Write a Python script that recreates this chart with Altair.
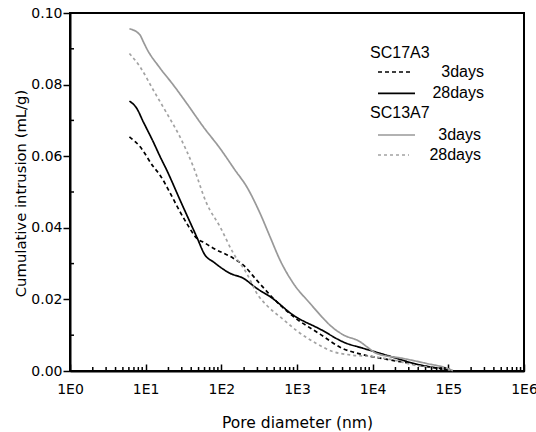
import altair as alt
import pandas as pd

# ---- data ----
sc17_3d_d = [6.1, 8.4, 12.6, 15.5, 20, 28.4, 34.8, 47.2, 60, 78.3, 144, 195, 293, 486, 850, 2014, 4000, 7000, 15000, 30000, 50000, 105000]
sc17_3d_v = [0.0654, 0.0627, 0.0571, 0.0547, 0.0506, 0.0445, 0.0413, 0.0371, 0.0358, 0.0343, 0.0315, 0.0296, 0.0254, 0.0203, 0.0156, 0.0103, 0.0063, 0.0047, 0.0033, 0.0022, 0.0013, 0.0003]

sc17_28d_d = [6.1, 7.6, 9.3, 12.6, 15.5, 19.0, 28.4, 47.2, 60.8, 78.3, 130, 195, 293, 460, 893, 2014, 4540, 6790, 15300, 42200, 105000]
sc17_28d_v = [0.0754, 0.0734, 0.0696, 0.0640, 0.0599, 0.0561, 0.0478, 0.0375, 0.0324, 0.0305, 0.0273, 0.0259, 0.0231, 0.0205, 0.0156, 0.0117, 0.0077, 0.0066, 0.0044, 0.0017, 0.0004]

sc13_3d_d = [6.1, 8.4, 9.3, 10.3, 15.5, 23.2, 34.8, 57.8, 96, 152, 216, 324, 440, 596, 893, 1486, 2225, 2727, 4090, 6790, 8340, 11300, 25400, 51700, 95000, 115000]
sc13_3d_v = [0.0956, 0.0939, 0.0920, 0.0901, 0.0846, 0.0799, 0.0748, 0.0682, 0.0622, 0.0561, 0.0515, 0.0441, 0.0375, 0.0310, 0.0245, 0.0189, 0.0147, 0.0128, 0.0101, 0.0082, 0.0068, 0.0049, 0.0035, 0.0021, 0.0008, 0.0001]

sc13_28d_d = [6.1, 8.4, 12.6, 19.0, 28.4, 42.6, 64, 96, 144, 216, 305, 400, 650, 1000, 1800, 3000, 5000, 10000, 18700, 34400, 70000, 105000]
sc13_28d_v = [0.0887, 0.0850, 0.0785, 0.0720, 0.0654, 0.0571, 0.0468, 0.0403, 0.0329, 0.0273, 0.0212, 0.0183, 0.0145, 0.0112, 0.0077, 0.0054, 0.0045, 0.0040, 0.0031, 0.0017, 0.0008, 0.0003]

series_names = ["SC17A3 3days", "SC17A3 28days", "SC13A7 3days", "SC13A7 28days"]
series_colors = ["#000000", "#000000", "#999999", "#a3a3a3"]
series_dash = [[4, 3], [1, 0], [1, 0], [3, 3]]

x_ticks = [1, 10, 100, 1000, 10000, 100000, 1000000]
y_ticks = [0.0, 0.02, 0.04, 0.06, 0.08, 0.10]
y_minor = [0.01, 0.03, 0.05, 0.07, 0.09]
x_minor = [float(k * 10 ** n) for n in range(0, 6) for k in range(2, 10)]

legend_groups = ["SC17A3", "SC13A7"]
legend_labels = ["3days", "28days", "3days", "28days"]

rows = []
for name, ds, vs in zip(series_names,
                        [sc17_3d_d, sc17_28d_d, sc13_3d_d, sc13_28d_d],
                        [sc17_3d_v, sc17_28d_v, sc13_3d_v, sc13_28d_v]):
    for i, (d, v) in enumerate(zip(ds, vs)):
        rows.append({"series": name, "d": d, "v": v, "i": i})
df = pd.DataFrame(rows)

W, H = 454, 358
FONT = "DejaVu Sans"

xscale = alt.Scale(type="log", domain=[1, 1000000])
yscale = alt.Scale(domain=[0, 0.1])

lines = alt.Chart(df).mark_line(strokeWidth=1.7, interpolate="monotone").encode(
    x=alt.X("d:Q", scale=xscale,
            axis=alt.Axis(values=x_ticks, labelExpr="'1E' + round(log(datum.value)/LN10)",
                          ticks=True, tickSize=alt.ExprRef("-7"), tickWidth=1.5, tickColor="black",
                          labelPadding=29, labelBaseline="alphabetic",
                          labelFont=FONT, labelFontSize=14, labelColor="black",
                          title="Pore diameter (nm)", titleFont=FONT, titleFontSize=15.5,
                          titleFontWeight="normal", titleColor="black",
                          titleX=227, titleY=56, titleBaseline="alphabetic", titleAlign="center",
                          domainColor="black", domainWidth=2, grid=False, labelFlush=False,
                          labelOverlap=False)),
    y=alt.Y("v:Q", scale=yscale,
            axis=alt.Axis(values=y_ticks, format=".2f", tickSize=7, tickWidth=1.5,
                          tickColor="black", labelPadding=1,
                          labelFont=FONT, labelFontSize=14, labelColor="black",
                          title="Cumulative intrusion (mL/g)", titleFont=FONT, titleFontSize=14.8,
                          titleFontWeight="normal", titleColor="black",
                          titleAngle=270, titleX=-45, titleY=180, titleBaseline="alphabetic",
                          titleAlign="center",
                          domainColor="black", domainWidth=2, grid=False, labelFlush=False,
                          labelOverlap=False)),
    color=alt.Color("series:N", scale=alt.Scale(domain=series_names, range=series_colors), legend=None),
    strokeDash=alt.StrokeDash("series:N", scale=alt.Scale(domain=series_names, range=series_dash), legend=None),
    detail="series:N",
    order="i:Q",
)

# inward minor tick decorations (length 4 px expressed in data units)
minor_len = 0.1 * 4 / H
yminor_x2 = 10 ** (6 * 4 / W)

minor_df = pd.DataFrame({"xt": x_minor, "y0": [0.0] * len(x_minor), "y1": [minor_len] * len(x_minor)})
yminor_df = pd.DataFrame({"yt": y_minor, "x0": [1.0] * len(y_minor), "x1": [yminor_x2] * len(y_minor)})

xminor = alt.Chart(minor_df).mark_rule(color="black", strokeWidth=1.5).encode(
    x=alt.X("xt:Q", scale=xscale), y=alt.Y("y0:Q", scale=yscale), y2="y1:Q")
yminor = alt.Chart(yminor_df).mark_rule(color="black", strokeWidth=1.5).encode(
    y=alt.Y("yt:Q", scale=yscale), x=alt.X("x0:Q", scale=xscale), x2="x1:Q")

# ---- legend (drawn with pixel positions inside the plot) ----
LFONT = "Liberation Sans"
one = pd.DataFrame({"a": [0]})
legend_layers = []
for txt, yy in zip(legend_groups, [45.3, 105.3]):
    legend_layers.append(
        alt.Chart(one).mark_text(font=LFONT, fontSize=16, align="left", baseline="alphabetic",
                                 color="black").encode(
            x=alt.value(300), y=alt.value(yy), text=alt.value(txt)))
for txt, yy, xe in zip(legend_labels, [59, 80.3, 122, 142], [414, 414, 411, 411]):
    legend_layers.append(
        alt.Chart(one).mark_text(font=LFONT, fontSize=16, align="right", baseline="middle",
                                 color="black").encode(
            x=alt.value(xe), y=alt.value(yy), text=alt.value(txt)))
for (yy, x2, col, dash) in [(59, 343, "#000000", [4, 3]),
                            (80.3, 345, "#000000", [1, 0]),
                            (122, 345, "#999999", [1, 0]),
                            (142, 339, "#a3a3a3", [3, 3])]:
    legend_layers.append(
        alt.Chart(one).mark_rule(color=col, strokeDash=dash, strokeWidth=1.7).encode(
            x=alt.value(308), x2=alt.value(x2), y=alt.value(yy)))

chart = alt.layer(lines, xminor, yminor, *legend_layers).properties(
    width=W, height=H,
    autosize=alt.AutoSizeParams(type="none"),
    padding={"left": 70, "top": 13, "right": 12, "bottom": 61},
    background="white",
).configure_view(stroke="black", strokeWidth=2)

chart.save("out.html", embed_options={"renderer": "svg", "actions": False})
